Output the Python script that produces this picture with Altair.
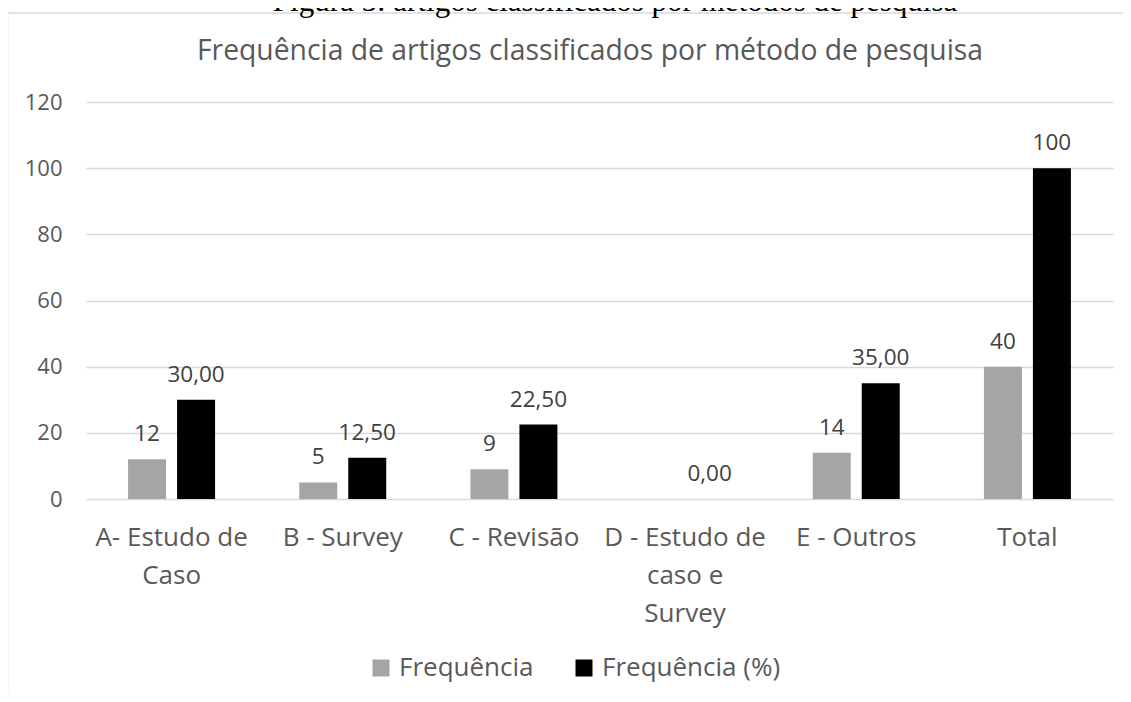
import altair as alt
import pandas as pd

# ---- data ----
categories = ["A- Estudo de Caso", "B - Survey", "C - Revisão",
              "D - Estudo de caso e Survey", "E - Outros", "Total"]
category_lines = [["A- Estudo de", "Caso"], ["B - Survey"], ["C - Revisão"],
                  ["D - Estudo de", "caso e", "Survey"], ["E - Outros"], ["Total"]]
series = ["Frequência", "Frequência (%)"]
freq = [12, 5, 9, None, 14, 40]
freq_pct = [30.0, 12.5, 22.5, 0.0, 35.0, 100.0]
freq_labels = ["12", "5", "9", "", "14", "40"]
pct_labels = ["30,00", "12,50", "22,50", "0,00", "35,00", "100"]
colors = ["#a5a5a5", "#000000"]
y_ticks = [0, 20, 40, 60, 80, 100, 120]

chart_title = "Frequência de artigos classificados por método de pesquisa"
caption = "Figura 5: artigos classificados por métodos de pesquisa"

rows = []
for i, c in enumerate(categories):
    rows.append({"cat": c, "series": series[0], "value": freq[i], "label": freq_labels[i]})
    rows.append({"cat": c, "series": series[1], "value": freq_pct[i], "label": pct_labels[i]})
df = pd.DataFrame(rows)
bars_df = df.dropna(subset=["value"])

# multi-line x labels
expr = "datum.value"
for c, lines in reversed(list(zip(categories, category_lines))):
    arr = "[" + ",".join("'" + l + "'" for l in lines) + "]"
    expr = f"datum.value == '{c}' ? {arr} : ({expr})"

FONT = "Open Sans"
W, H = 1027, 397

x_enc = alt.X("cat:N", sort=categories,
              scale=alt.Scale(paddingInner=0, paddingOuter=0),
              axis=alt.Axis(title=None, labelAngle=0, labelExpr=expr,
                            labelFontSize=26, labelColor="#595959", labelFont=FONT,
                            labelBaseline="top", labelPadding=25, labelLineHeight=38,
                            labelLimit=0, labelOverlap=False, labelBound=False,
                            domain=False, ticks=False, grid=False))
xo_enc = alt.XOffset("series:N", sort=series,
                     scale=alt.Scale(paddingInner=0.2245, paddingOuter=0.859))
y_enc = alt.Y("value:Q", scale=alt.Scale(domain=[0, 120], nice=False),
              axis=alt.Axis(title=None, values=y_ticks, labelFontSize=22,
                            labelColor="#595959", labelFont=FONT, labelPadding=24,
                            domain=False, ticks=False, grid=True,
                            gridColor="#d9d9d9", gridWidth=1.4))

base = alt.Chart(bars_df)

bars = base.mark_bar().encode(
    x=x_enc, xOffset=xo_enc, y=y_enc,
    color=alt.Color("series:N", sort=series,
                    scale=alt.Scale(domain=series, range=colors),
                    legend=alt.Legend(title=None, orient="none", direction="horizontal",
                                      legendX=282, legendY=553, symbolType="square",
                                      symbolSize=289, symbolStrokeWidth=0,
                                      labelFontSize=26, labelColor="#595959",
                                      labelFont=FONT, labelOffset=5, columnPadding=37,
                                      labelLimit=0, padding=0)),
)

labels = base.mark_text(dy=-25, baseline="middle", fontSize=22.5, font=FONT,
                        color="#404040").encode(
    x=alt.X("cat:N", sort=categories), xOffset=alt.XOffset("series:N", sort=series),
    y=alt.Y("value:Q"), text="label:N")

one = pd.DataFrame({"t": [chart_title], "c": [caption]})

border = alt.Chart(one).mark_rect(fillOpacity=0, stroke="#d9d9d9", strokeWidth=1.5).encode(
    x=alt.value(-78.5), x2=alt.value(1080), y=alt.value(-89), y2=alt.value(640))

title_mark = alt.Chart(one).mark_text(fontSize=28.3, font=FONT, color="#595959",
                                      baseline="middle", align="center").encode(
    x=alt.value(504), y=alt.value(-50), text="t:N")

caption_mark = alt.Chart(one).mark_text(fontSize=31, font="Liberation Serif", color="#000000",
                                        baseline="alphabetic", align="center").encode(
    x=alt.value(529), y=alt.value(-91), text="c:N")

chart = alt.layer(border, bars, labels, title_mark, caption_mark).properties(
    width=W, height=H,
    autosize=alt.AutoSizeParams(type="none"),
    padding={"left": 78, "top": 94, "right": 10, "bottom": 195},
    background="white",
).configure_view(stroke=None)

chart.save("out.html", embed_options={"renderer": "svg", "actions": False})
